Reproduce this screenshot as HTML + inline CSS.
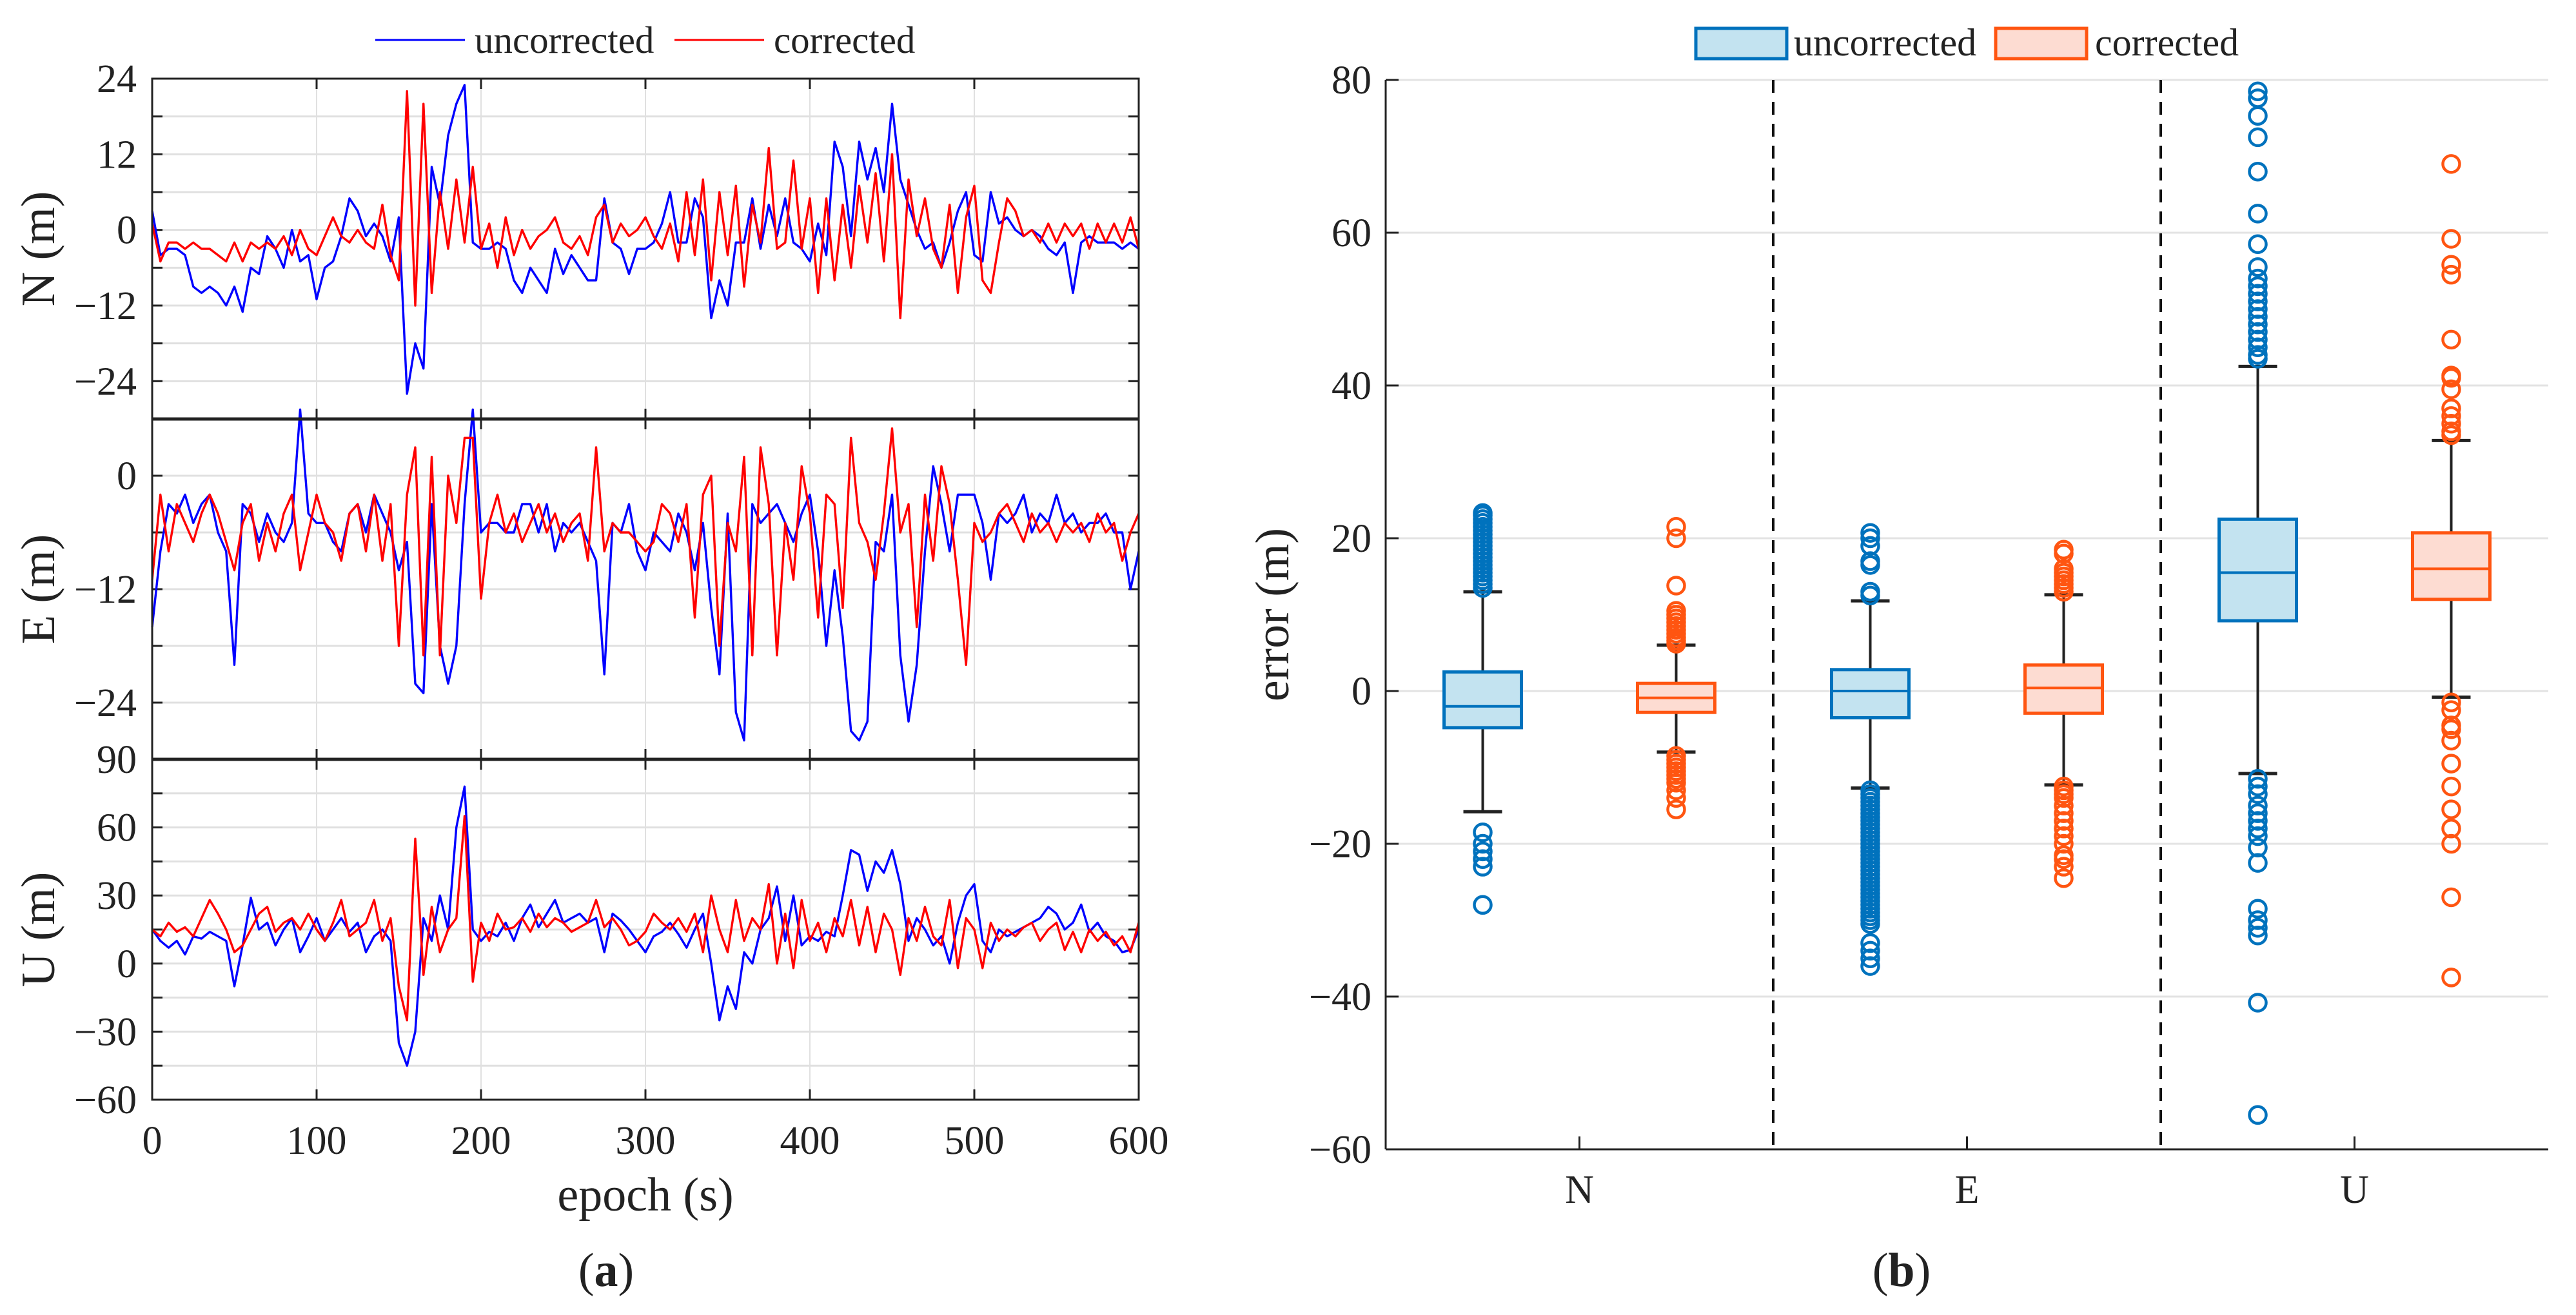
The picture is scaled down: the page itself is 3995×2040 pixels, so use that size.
<!DOCTYPE html>
<html><head><meta charset="utf-8"><style>
html,body{margin:0;padding:0;background:#fff}
svg{display:block}
svg text{font-family:"Liberation Serif","Times New Roman",serif;fill:#222}
</style></head><body>
<svg id="fig" width="3995" height="2040" viewBox="0 0 3995 2040" xmlns="http://www.w3.org/2000/svg" font-family="Liberation Serif, serif">
<g id="left"></g>
<g id="right"></g>
</svg>
<script>
// ---- Panel (a) data: epoch every 5 s ----
const epochs = Array.from({length:121},(_,i)=>i*5);
const nUncorr=[3,-4,-3,-3,-4,-9,-10,-9,-10,-12,-9,-13,-6,-7,-1,-3,-6,0,-5,-4,-11,-6,-5,-1,5,3,-1,1,-1,-5,2,-26,-18,-22,10,4,15,20,23,-2,-3,-3,-2,-3,-8,-10,-6,-8,-10,-3,-7,-4,-6,-8,-8,5,-2,-3,-7,-3,-3,-2,1,6,-2,-2,5,2,-14,-8,-12,-2,-2,5,-3,4,-1,5,-2,-3,-5,1,-4,14,10,-1,14,8,13,6,20,8,4,0,-3,-2,-6,-2,3,6,-4,-5,6,1,2,0,-1,0,-1,-3,-4,-2,-10,-2,-1,-2,-2,-2,-3,-2,-3];
const nCorr=[1,-5,-2,-2,-3,-2,-3,-3,-4,-5,-2,-5,-2,-3,-2,-3,-1,-4,0,-3,-4,-1,2,-1,-2,0,-2,-3,4,-4,-8,22,-12,20,-10,6,-3,8,-2,10,-3,1,-6,2,-4,0,-3,-1,0,2,-2,-3,-1,-4,2,4,-2,1,-1,0,2,-1,-3,1,-5,6,-4,8,-8,6,-4,7,-9,4,-2,13,-3,-2,11,-3,5,-10,5,-8,4,-6,7,-2,9,-5,12,-14,8,-1,5,-3,-6,4,-10,2,7,-8,-10,-2,5,3,-1,0,-2,1,-2,1,-1,1,-3,1,-2,1,-2,2,-3];
const eUncorr=[-16,-8,-3,-4,-2,-5,-3,-2,-6,-8,-20,-3,-4,-7,-4,-6,-7,-5,7,-4,-5,-5,-7,-8,-4,-3,-6,-2,-4,-6,-10,-7,-22,-23,-3,-18,-22,-18,-3,7,-6,-5,-5,-6,-6,-3,-3,-6,-3,-8,-5,-6,-5,-7,-9,-21,-5,-6,-3,-8,-10,-6,-7,-8,-4,-6,-10,-5,-14,-21,-4,-25,-28,-3,-5,-4,-3,-5,-7,-4,-2,-8,-18,-10,-17,-27,-28,-26,-7,-8,-2,-19,-26,-20,-8,1,-3,-8,-2,-2,-2,-5,-11,-4,-5,-4,-2,-6,-4,-5,-2,-5,-4,-6,-5,-5,-4,-6,-6,-12,-8];
const eCorr=[-11,-2,-8,-3,-5,-7,-4,-2,-4,-7,-10,-5,-3,-9,-5,-8,-4,-2,-10,-6,-2,-5,-6,-9,-4,-3,-8,-2,-9,-3,-18,-2,3,-19,2,-19,0,-5,4,4,-13,-5,-2,-6,-4,-7,-5,-3,-6,-4,-7,-5,-4,-9,3,-8,-5,-6,-6,-7,-8,-7,-3,-4,-7,-3,-15,-2,0,-18,-5,-8,2,-19,3,-3,-19,-5,-11,1,-4,-15,-2,-3,-14,4,-5,-7,-11,-4,5,-6,-3,-16,-2,-9,1,-3,-11,-20,-5,-7,-6,-4,-3,-5,-7,-4,-6,-5,-7,-5,-6,-5,-7,-4,-6,-5,-9,-6,-4];
const uUncorr=[15,10,7,10,4,12,11,14,12,10,-10,8,29,15,18,8,15,20,5,12,20,10,15,20,14,18,5,12,15,10,-35,-45,-30,20,10,30,15,60,78,15,10,14,12,18,10,20,26,16,22,28,18,20,22,18,20,5,22,19,15,10,5,12,14,18,13,7,15,22,0,-25,-10,-20,5,0,15,20,34,10,30,8,12,10,14,12,30,50,48,32,45,40,50,35,10,20,15,8,12,0,18,30,35,10,5,15,12,14,16,18,20,25,22,15,18,26,14,18,12,10,5,6,15];
const uCorr=[15,12,18,14,16,12,20,28,22,15,5,8,15,22,25,14,18,20,15,22,15,10,18,28,12,15,18,28,10,20,-10,-25,55,-5,25,5,15,20,65,-8,18,10,22,15,16,20,14,22,16,20,18,14,16,18,28,16,20,15,8,10,14,22,18,15,20,14,22,5,30,15,5,28,10,20,15,35,0,22,-2,28,10,18,5,20,12,28,8,25,5,22,15,-5,20,10,25,12,8,28,-2,20,15,-2,18,10,15,12,16,18,10,15,18,6,14,5,15,10,14,8,12,5,18];
const xTicks=[0,100,200,300,400,500,600];
const nTicks=[24,12,0,-12,-24];
const eTicks=[0,-12,-24];
const uTicks=[90,60,30,0,-30,-60];

// ---- Panel (b) box data ----
const boxCats=['N','E','U'];
const q1Unc=[-4.8,-3.5,9.2], medUnc=[-2,0,15.5], q3Unc=[2.5,2.8,22.5], loUnc=[-15.8,-12.7,-10.8], hiUnc=[13,11.8,42.5];
const q1Cor=[-2.8,-2.9,12], medCor=[-0.9,0.4,16], q3Cor=[1,3.4,20.7], loCor=[-8,-12.3,-0.8], hiCor=[6,12.6,32.8];
const outUncN=[13.5,14,14.5,15,15.5,16,16.5,17,17.5,18,18.5,19,19.5,20,20.5,21,21.5,22,22.5,23,23.3,-18.5,-20,-21,-22,-23,-28];
const outCorN=[6.2,6.6,7,7.5,8,8.5,9,9.5,10,10.5,13.8,20,21.5,-8.5,-9,-9.5,-10,-10.5,-11,-11.5,-12,-13,-14,-15.5];
const outUncE=[12.5,13,16.5,17,19,20,20.7,-13,-13.5,-14,-14.5,-15,-15.5,-16,-16.5,-17,-17.5,-18,-18.5,-19,-19.5,-20,-20.5,-21,-21.5,-22,-22.5,-23,-23.5,-24,-24.5,-25,-25.5,-26,-26.5,-27,-27.5,-28,-28.5,-29,-29.5,-30,-30.5,-33,-34,-35,-36];
const outCorE=[13,13.5,14,14.5,15,15.5,16,18,18.5,-12.5,-13,-13.5,-14,-15,-16,-17,-18,-19,-20,-21.5,-22,-23,-24.5];
const outUncU=[43.5,44,45,46,47,48,49,50,51,52,53,54,55.5,58.5,62.5,68,72.5,75.3,77.6,78.5,-11.5,-12.5,-13.5,-15,-16,-17,-18,-19,-20.5,-22.5,-28.5,-30,-31,-32,-40.8,-55.5];
const outCorU=[33.5,34,35,36,37,39.5,41,41.3,46,54.5,55.8,59.2,69,-1.5,-2.5,-4.5,-5,-6.5,-9.5,-12.5,-15.5,-18,-20,-27,-37.5];
const bTicks=[80,60,40,20,0,-20,-40,-60];

const NS='http://www.w3.org/2000/svg';
const FF='Liberation Serif, Times New Roman, serif';
function el(tag,attrs,parent,txt){const e=document.createElementNS(NS,tag);for(const k in attrs)e.setAttribute(k,attrs[k]);if(tag==='text')e.setAttribute('font-family',FF);if(txt!==undefined)e.textContent=txt;parent.appendChild(e);return e;}
const L=document.getElementById('left'), R=document.getElementById('right');

// ---- Panel (a) ----
const X0=236,X1=1766;
const sx=t=>X0+(t/600)*(X1-X0);
const panels=[
 {name:'n',top:122,bot:650,min:-30,max:24,grid:6,ticks:nTicks,u:nUncorr,c:nCorr,label:'N (m)'},
 {name:'e',top:650,bot:1178,min:-30,max:6,grid:6,ticks:eTicks,u:eUncorr,c:eCorr,label:'E (m)'},
 {name:'u',top:1178,bot:1706,min:-60,max:90,grid:15,ticks:uTicks,u:uUncorr,c:uCorr,label:'U (m)'}
];
panels.forEach(p=>{
 const g=el('g',{},L);
 
 
 const sy=v=>p.bot-(v-p.min)/(p.max-p.min)*(p.bot-p.top);
 xTicks.forEach(t=>{ if(t>0&&t<600){const l=el('line',{x1:sx(t),x2:sx(t),y1:p.top,y2:p.bot,stroke:'#e0e0e0','stroke-width':2},g);
  
  }});
 for(let v=Math.ceil(p.min/p.grid)*p.grid; v<=p.max; v+=p.grid){ if(v>p.min&&v<p.max){
  const l=el('line',{x1:X0,x2:X1,y1:sy(v),y2:sy(v),stroke:'#e0e0e0','stroke-width':3},g);
  
  
  el('line',{x1:X0,x2:X0+16,y1:sy(v),y2:sy(v),stroke:'#222','stroke-width':3},g);
  el('line',{x1:X1-16,x2:X1,y1:sy(v),y2:sy(v),stroke:'#222','stroke-width':3},g);}}
 xTicks.forEach(t=>{el('line',{x1:sx(t),x2:sx(t),y1:p.top,y2:p.top+16,stroke:'#222','stroke-width':3},g);
  el('line',{x1:sx(t),x2:sx(t),y1:p.bot-16,y2:p.bot,stroke:'#222','stroke-width':3},g);});
 const mk=(arr,col,nm)=>{const pl=el('polyline',{points:arr.map((v,i)=>sx(epochs[i])+','+sy(v)).join(' '),fill:'none',stroke:col,'stroke-width':3.4,'stroke-linejoin':'round'},g);
  
  };
 mk(p.u,'#0000ff',p.name+'-uncorrected-line');
 mk(p.c,'#ff0000',p.name+'-corrected-line');
 p.ticks.forEach(v=>{const t=el('text',{x:212,y:sy(v)+21,'font-size':62,'text-anchor':'end'},g,v<0?'\u2212'+(-v):String(v));
  
  });
 const yl=el('text',{x:0,y:0,'font-size':74,'text-anchor':'middle',transform:`translate(84,${(p.top+p.bot)/2}) rotate(-90)`},g,p.label);
 
 
});
el('rect',{x:X0,y:122,width:X1-X0,height:1706-122,fill:'none',stroke:'#222','stroke-width':3},L);
el('line',{x1:X0,x2:X1,y1:650,y2:650,stroke:'#222','stroke-width':5},L);
el('line',{x1:X0,x2:X1,y1:1178,y2:1178,stroke:'#222','stroke-width':5},L);
xTicks.forEach(t=>{const tx=el('text',{x:sx(t),y:1790,'font-size':62,'text-anchor':'middle'},L,String(t));
 
 });
const xl=el('text',{x:1001,y:1878,'font-size':74,'text-anchor':'middle'},L,'epoch (s)');


const ca=el('text',{x:940,y:1995,'font-size':74,'text-anchor':'middle'},L);


ca.innerHTML='(<tspan font-weight="bold">a</tspan>)';
const lgA=el('g',{},L);


el('line',{x1:582,x2:721,y1:62,y2:62,stroke:'#0000ff','stroke-width':3},lgA);
el('text',{x:736,y:82,'font-size':59},lgA,'uncorrected');
el('line',{x1:1046,x2:1185,y1:62,y2:62,stroke:'#ff0000','stroke-width':3},lgA);
el('text',{x:1200,y:82,'font-size':59},lgA,'corrected');

// ---- Panel (b) ----
const BX0=2149,BX1=3952,BY0=124,BY1=1783,BMIN=-60,BMAX=80;
const by=v=>BY1-(v-BMIN)/(BMAX-BMIN)*(BY1-BY0);
const cx=i=>BX0+(i+0.5)/3*(BX1-BX0);
bTicks.forEach(v=>{ if(v!==-60){const l=el('line',{x1:BX0,x2:BX1,y1:by(v),y2:by(v),stroke:'#e3e3e3','stroke-width':3},R);
 
 }
 el('line',{x1:BX0,x2:BX0+20,y1:by(v),y2:by(v),stroke:'#222','stroke-width':3},R);
 const t=el('text',{x:2127,y:by(v)+21,'font-size':62,'text-anchor':'end'},R,v<0?'\u2212'+(-v):String(v));
 
 });
[1,2].forEach(k=>{const d=el('line',{x1:BX0+k/3*(BX1-BX0),x2:BX0+k/3*(BX1-BX0),y1:BY0,y2:BY1,stroke:'#111','stroke-width':4,'stroke-dasharray':'20,14'},R);
 
 });
el('line',{x1:BX0,x2:BX0,y1:BY0,y2:BY1,stroke:'#222','stroke-width':3},R);
el('line',{x1:BX0,x2:BX1,y1:BY1,y2:BY1,stroke:'#222','stroke-width':3},R);
boxCats.forEach((c,i)=>{el('line',{x1:cx(i),x2:cx(i),y1:BY1,y2:BY1-20,stroke:'#222','stroke-width':3},R);
 const t=el('text',{x:cx(i),y:1866,'font-size':62,'text-anchor':'middle'},R,c);
 
 });
function drawBox(i,off,q1,md,q3,lo,hi,outs,stroke,fill,nm){
 const g=el('g',{},R);
 
 
 const x=cx(i)+off,hw=60;
 el('line',{x1:x,x2:x,y1:by(hi),y2:by(q3),stroke:'#222','stroke-width':4},g);
 el('line',{x1:x,x2:x,y1:by(q1),y2:by(lo),stroke:'#222','stroke-width':4},g);
 el('line',{x1:x-30,x2:x+30,y1:by(hi),y2:by(hi),stroke:'#222','stroke-width':5},g);
 el('line',{x1:x-30,x2:x+30,y1:by(lo),y2:by(lo),stroke:'#222','stroke-width':5},g);
 el('rect',{x:x-hw,y:by(q3),width:2*hw,height:by(q1)-by(q3),fill:fill,stroke:stroke,'stroke-width':5},g);
 el('line',{x1:x-hw,x2:x+hw,y1:by(md),y2:by(md),stroke:stroke,'stroke-width':4},g);
 outs.forEach(v=>{const o=el('circle',{cx:x,cy:by(v),r:13,fill:'none',stroke:stroke,'stroke-width':4.5},g);
  
  });
}
const outsU=[outUncN,outUncE,outUncU], outsC=[outCorN,outCorE,outCorU];
boxCats.forEach((c,i)=>{
 drawBox(i,-150,q1Unc[i],medUnc[i],q3Unc[i],loUnc[i],hiUnc[i],outsU[i],'#0072bd','#c3e3f0','box-uncorrected-'+c);
 drawBox(i,150,q1Cor[i],medCor[i],q3Cor[i],loCor[i],hiCor[i],outsC[i],'#ff5511','#fddcd2','box-corrected-'+c);
});
const yb=el('text',{x:0,y:0,'font-size':74,'text-anchor':'middle',transform:`translate(1998,${by(10)}) rotate(-90)`},R,'error (m)');


const cb=el('text',{x:2949,y:1995,'font-size':74,'text-anchor':'middle'},R);


cb.innerHTML='(<tspan font-weight="bold">b</tspan>)';
const lgB=el('g',{},R);


el('rect',{x:2630,y:44,width:141,height:47,fill:'#c3e3f0',stroke:'#0072bd','stroke-width':5},lgB);
el('text',{x:2782,y:86,'font-size':60},lgB,'uncorrected');
el('rect',{x:3095,y:44,width:141,height:47,fill:'#fddcd2',stroke:'#ff5511','stroke-width':5},lgB);
el('text',{x:3249,y:86,'font-size':60},lgB,'corrected');
</script>
</body></html>
